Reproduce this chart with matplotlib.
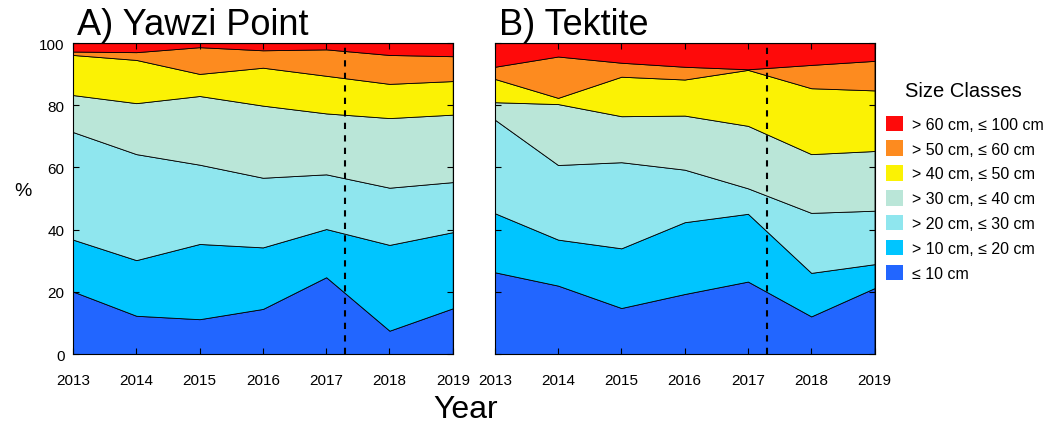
import numpy as np
import matplotlib.pyplot as plt
from matplotlib.patches import Patch

plt.rcParams['font.family'] = ['Liberation Sans', 'DejaVu Sans']

years = [2013, 2014, 2015, 2016, 2017, 2018, 2019]

size_classes = ['≤ 10 cm', '> 10 cm, ≤ 20 cm', '> 20 cm, ≤ 30 cm', '> 30 cm, ≤ 40 cm',
                '> 40 cm, ≤ 50 cm', '> 50 cm, ≤ 60 cm', '> 60 cm, ≤ 100 cm']
class_colors = ['#2266FF', '#00C5FF', '#8FE6EE', '#BAE6D8', '#FBF204', '#FD8B1F', '#FE0A0A']

# percent of colonies in each size class, per year
yawzi = [
    [20.1, 12.3, 11.2, 14.5, 24.7, 7.5, 14.7],
    [16.7, 17.9, 24.2, 19.8, 15.5, 27.6, 24.5],
    [34.6, 34.1, 25.5, 22.4, 17.6, 18.4, 16.1],
    [11.9, 16.4, 22.1, 23.2, 19.6, 22.4, 21.7],
    [12.9, 13.9, 7.1, 12.2, 12.1, 11.0, 10.8],
    [1.1, 2.5, 8.6, 5.6, 8.5, 9.3, 8.0],
    [2.7, 2.9, 1.3, 2.3, 2.0, 3.8, 4.2],
]
tektite = [
    [26.3, 22.0, 14.8, 19.3, 23.3, 12.1, 21.2],
    [19.0, 14.8, 19.2, 23.1, 21.8, 14.0, 7.7],
    [30.1, 24.0, 27.7, 16.9, 8.2, 19.3, 17.2],
    [5.6, 19.6, 14.8, 17.4, 20.1, 18.9, 19.2],
    [7.5, 2.0, 12.7, 11.6, 18.0, 21.2, 19.5],
    [3.9, 13.3, 4.5, 4.1, 0.2, 7.5, 9.5],
    [7.6, 4.3, 6.3, 7.6, 8.4, 7.0, 5.7],
]

event_time = 2017.3

fig = plt.figure(figsize=(10.52, 4.27), dpi=100)
axA = fig.add_axes([0.0694, 0.1686, 0.361, 0.728])
axB = fig.add_axes([0.4703, 0.1686, 0.361, 0.728])

for ax, data, title in [(axA, yawzi, 'A) Yawzi Point'), (axB, tektite, 'B) Tektite')]:
    ax.stackplot(years, data, colors=class_colors, edgecolor='black', linewidth=0.6)
    ax.axvline(event_time, color='black', linestyle='--', linewidth=1.5, dashes=(3, 3))
    ax.set_xlim(2013, 2019)
    ax.set_ylim(0, 100)
    ax.set_xticks(years)
    ax.set_yticks([0, 20, 40, 60, 80, 100])
    ax.tick_params(direction='in', top=True, right=True, labelsize=11, length=4)
    ax.tick_params(axis='x', pad=14)
    ax.tick_params(axis='y', pad=6)
    # title sits a few pixels above the top spine
    ax.text(0.01, 1.0 + 9 / 311, title, transform=ax.transAxes, fontsize=26,
            ha='left', va='baseline')

axB.tick_params(labelleft=False)
axA.set_ylabel('%', fontsize=14, rotation=0, labelpad=12)
fig.text(0.443, 0.005, 'Year', fontsize=23, ha='center', va='bottom')

fig.text(0.916, 0.785, 'Size Classes', fontsize=14.5, ha='center', va='center')
handles = [Patch(facecolor=c) for c in class_colors[::-1]]
fig.legend(handles, size_classes[::-1], loc='upper left', bbox_to_anchor=(0.836, 0.742),
           frameon=False, fontsize=11.5, borderaxespad=0,
           handlelength=1.1, handleheight=1.1, labelspacing=0.55, handletextpad=0.55)

fig.savefig('out.png', dpi=100)
